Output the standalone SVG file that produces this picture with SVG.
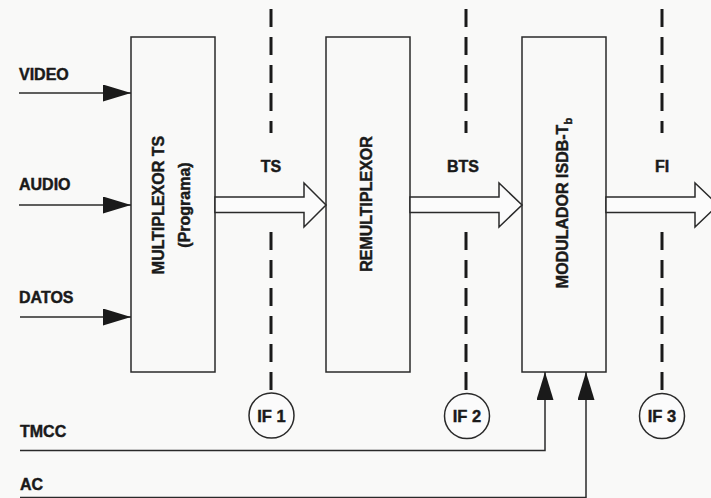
<svg xmlns="http://www.w3.org/2000/svg" width="711" height="498" viewBox="0 0 711 498">
  <style>
    .bg { fill: #f9f9f8; }
    .box { fill: none; stroke: #2a2a2a; stroke-width: 1.5; }
    .wire { fill: none; stroke: #2a2a2a; stroke-width: 1.5; }
    .dash { fill: none; stroke: #1a1a1a; stroke-width: 3; stroke-dasharray: 18 10; }
    .bus { fill: #fbfbfb; stroke: #2a2a2a; stroke-width: 1.5; stroke-linejoin: miter; }
    .port { fill: #fbfbfb; stroke: #2a2a2a; stroke-width: 1.5; }
    .lbl { font-family: "Liberation Sans", Arial, sans-serif; font-weight: bold; font-size: 16px; fill: #1a1a1a; stroke: #1a1a1a; stroke-width: 0.45; }
    .mid { text-anchor: middle; }
    .small { font-size: 16.5px; }
  </style>
  <defs>
    <marker id="tri" viewBox="0 0 28 17" refX="28" refY="8.5" markerWidth="28" markerHeight="17" markerUnits="userSpaceOnUse" orient="auto">
      <path d="M0,0 L28,8.5 L0,17 z" fill="#1a1a1a"/>
    </marker>
  </defs>

  <rect class="bg" x="0" y="0" width="711" height="498"/>

  <!-- signal inputs -->
  <g id="in-video"><text class="lbl" x="19" y="80">VIDEO</text></g>
  <g id="in-audio"><text class="lbl" x="19" y="190">AUDIO</text></g>
  <g id="in-datos"><text class="lbl" x="19" y="303">DATOS</text></g>
  <g id="in-tmcc"><text class="lbl" x="20" y="437">TMCC</text></g>
  <g id="in-ac"><text class="lbl" x="20" y="490">AC</text></g>

  <!-- processing blocks -->
  <g id="mux-ts">
    <rect class="box" x="131" y="37" width="84" height="335"/>
    <text class="lbl mid" transform="translate(164,205) rotate(-90)">MULTIPLEXOR TS</text>
    <text class="lbl mid" transform="translate(190,205) rotate(-90)">(Programa)</text>
  </g>
  <g id="remux">
    <rect class="box" x="326" y="37" width="84" height="335"/>
    <text class="lbl mid" transform="translate(372,204) rotate(-90)">REMULTIPLEXOR</text>
  </g>
  <g id="modulador">
    <rect class="box" x="522" y="37" width="84" height="335"/>
    <text class="lbl mid" transform="translate(568,203) rotate(-90)">MODULADOR ISDB-T<tspan font-size="11" dy="4">b</tspan></text>
  </g>

  <!-- stream labels -->
  <g id="lbl-ts"><text class="lbl mid" x="271" y="172">TS</text></g>
  <g id="lbl-bts"><text class="lbl mid" x="463" y="172">BTS</text></g>
  <g id="lbl-fi"><text class="lbl mid" x="662" y="172">FI</text></g>

  <!-- interface points -->
  <g id="if1">
    <circle class="port" cx="271.5" cy="415.5" r="22.5"/>
    <text class="lbl mid small" x="271.5" y="421.5">IF 1</text>
  </g>
  <g id="if2">
    <circle class="port" cx="467" cy="416" r="22.5"/>
    <text class="lbl mid small" x="467" y="422">IF 2</text>
  </g>
  <g id="if3">
    <circle class="port" cx="662" cy="416" r="22.5"/>
    <text class="lbl mid small" x="662" y="422">IF 3</text>
  </g>

  <!-- connectors -->
  <g id="connectors">
    <!-- inputs to the program multiplexer -->
    <line class="wire" x1="19" y1="93" x2="131" y2="93" marker-end="url(#tri)"/>
    <line class="wire" x1="19" y1="205" x2="131" y2="205" marker-end="url(#tri)"/>
    <line class="wire" x1="20" y1="317" x2="131" y2="317" marker-end="url(#tri)"/>

    <!-- control inputs to the modulator -->
    <polyline class="wire" points="20,450.5 545,450.5 545,372" marker-end="url(#tri)"/>
    <polyline class="wire" points="20,497.5 586,497.5 586,372" marker-end="url(#tri)"/>

    <!-- wide stream arrows -->
    <polygon class="bus" points="215,197 304,197 304,183 326,205 304,227 304,212.5 215,212.5"/>
    <polygon class="bus" points="410,197 499,197 499,183 522,205 499,227 499,212.5 410,212.5"/>
    <polygon class="bus" points="606,197 695,197 695,183 718,205 695,227 695,212.5 606,212.5"/>

    <!-- interface cut lines -->
    <line class="dash" x1="271" y1="9" x2="271" y2="133"/>
    <line class="dash" x1="271" y1="232" x2="271" y2="393"/>
    <line class="dash" x1="466" y1="9" x2="466" y2="133"/>
    <line class="dash" x1="466" y1="232" x2="466" y2="393.5"/>
    <line class="dash" x1="662" y1="9" x2="662" y2="133"/>
    <line class="dash" x1="662" y1="232" x2="662" y2="393.5"/>
  </g>
</svg>
